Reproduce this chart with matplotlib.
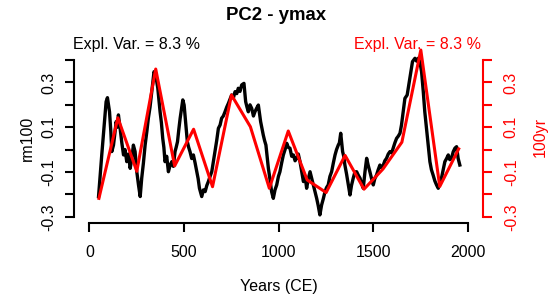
import matplotlib
matplotlib.use("Agg")
import matplotlib.pyplot as plt

plt.rcParams['font.family'] = ['Liberation Sans', 'DejaVu Sans']
plt.rcParams['axes.unicode_minus'] = False

# ---- data ----
black_years = [48, 65, 78, 88, 95, 106, 113, 118, 127, 134, 141, 147, 153, 162, 171, 180, 188, 197, 206, 215, 224,
               232, 241, 250, 259, 268, 276, 285, 294, 303, 311, 320, 329, 341, 350, 361, 373, 380, 387, 393, 399,
               408, 417, 426, 435, 443, 452, 458, 465, 472, 479, 493, 500, 509, 517, 524, 531, 540, 549, 558, 567,
               574, 581, 593, 602, 611, 620, 628, 637, 646, 655, 663, 672, 681, 690, 698, 707, 716, 725, 734, 742,
               751, 760, 769, 778, 786, 795, 804, 816, 825, 832, 839, 848, 857, 866, 874, 883, 892, 904, 918, 925,
               932, 945, 953, 962, 971, 980, 989, 998, 1006, 1015, 1024, 1033, 1042, 1050, 1059, 1068, 1077, 1086,
               1094, 1103, 1112, 1121, 1130, 1139, 1147, 1156, 1165, 1174, 1182, 1191, 1200, 1208, 1217, 1226,
               1235, 1244, 1252, 1261, 1270, 1279, 1288, 1297, 1305, 1314, 1320, 1327, 1337, 1343, 1349, 1358,
               1367, 1376, 1384, 1393, 1402, 1411, 1420, 1429, 1437, 1446, 1455, 1464, 1472, 1481, 1490, 1499,
               1507, 1516, 1525, 1534, 1543, 1552, 1560, 1569, 1578, 1587, 1596, 1604, 1613, 1622, 1631, 1640,
               1648, 1657, 1666, 1678, 1692, 1706, 1719, 1728, 1736, 1745, 1754, 1763, 1771, 1780, 1789, 1798,
               1806, 1815, 1824, 1833, 1842, 1850, 1859, 1868, 1877, 1886, 1895, 1903, 1912, 1921, 1930, 1939,
               1947, 1956]
black_values = [-0.210, -0.024, 0.110, 0.214, 0.232, 0.169, 0.080, -0.009, 0.020, 0.070, 0.125, 0.100, 0.155,
                0.095, 0.030, -0.024, 0.000, -0.054, -0.020, -0.084, -0.040, 0.020, -0.009, -0.099, -0.158,
                -0.210, -0.128, -0.060, 0.020, 0.080, 0.140, 0.190, 0.259, 0.348, 0.333, 0.274, 0.169, 0.120,
                0.050, 0.010, -0.054, -0.030, -0.099, -0.070, -0.054, -0.075, -0.009, 0.010, 0.035, 0.090, 0.140,
                0.222, 0.199, 0.110, 0.035, 0.010, -0.009, -0.040, -0.024, -0.060, -0.099, -0.130, -0.173,
                -0.210, -0.180, -0.188, -0.160, -0.143, -0.120, -0.099, -0.050, -0.009, 0.040, 0.095, 0.110,
                0.140, 0.150, 0.169, 0.190, 0.207, 0.225, 0.244, 0.230, 0.259, 0.250, 0.274, 0.260, 0.289, 0.296,
                0.214, 0.190, 0.169, 0.200, 0.184, 0.150, 0.169, 0.185, 0.199, 0.125, 0.065, 0.040, 0.020, -0.084,
                -0.130, -0.188, -0.218, -0.180, -0.158, -0.120, -0.099, -0.060, -0.024, 0.000, 0.028, 0.010,
                0.006, -0.030, -0.024, -0.050, -0.039, -0.020, -0.054, -0.100, -0.143, -0.120, -0.173, -0.130,
                -0.099, -0.130, -0.158, -0.190, -0.218, -0.250, -0.292, -0.248, -0.220, -0.188, -0.170, -0.158,
                -0.120, -0.099, -0.060, -0.024, 0.000, 0.020, 0.030, 0.073, -0.009, -0.030, -0.069, -0.110,
                -0.158, -0.203, -0.160, -0.128, -0.100, -0.099, -0.115, -0.128, -0.150, -0.173, -0.100, -0.039,
                -0.070, -0.099, -0.130, -0.158, -0.130, -0.114, -0.090, -0.069, -0.080, -0.069, -0.050, -0.039,
                -0.020, -0.009, -0.015, 0.006, 0.030, 0.050, 0.060, 0.073, 0.110, 0.169, 0.229, 0.244, 0.318,
                0.393, 0.408, 0.395, 0.408, 0.393, 0.348, 0.259, 0.169, 0.095, 0.020, -0.054, -0.090, -0.114,
                -0.140, -0.158, -0.173, -0.150, -0.128, -0.090, -0.054, -0.040, -0.024, -0.045, -0.039, -0.010,
                0.006, 0.013, -0.039, -0.069]

red_years = [50, 150, 250, 350, 450, 550, 650, 750, 850, 950, 1050, 1150, 1250, 1350, 1450, 1550, 1650, 1750, 1850, 1950]
red_values = [-0.218, 0.142, -0.097, 0.360, -0.073, 0.091, -0.166, 0.244, 0.102, -0.173, 0.083, -0.136, -0.192,
              -0.026, -0.177, -0.087, 0.033, 0.445, -0.165, 0.003]

x_ticks = [0, 500, 1000, 1500, 2000]
y_ticks = [-0.3, -0.2, -0.1, 0.0, 0.1, 0.2, 0.3, 0.4]
y_ticklabels = ['-0.3', '', '-0.1', '', '0.1', '', '0.3', '']

title = "PC2 - ymax"
expl_text = "Expl. Var. = 8.3 %"

# ---- figure ----
W, H = 556, 302
fig = plt.figure(figsize=(W / 100, H / 100), dpi=100)

def fx(px):
    return px / W

def fy(py):
    return 1 - py / H

left, right, top, bottom = 74.3, 483.3, 43.3, 223.3
ax = fig.add_axes([fx(left), fy(bottom), fx(right) - fx(left), fy(top) - fy(bottom)])
ax.set_xlim(-80, 2080)
ax.set_ylim(-0.3295, 0.475)

ax.plot(black_years, black_values, color='black', lw=2.4, zorder=2)

for s in ['top', 'right']:
    ax.spines[s].set_visible(False)
ax.spines['left'].set_bounds(-0.3, 0.4)
ax.spines['bottom'].set_bounds(0, 2000)
for s in ['left', 'bottom']:
    ax.spines[s].set_linewidth(1.5)

FS = 11.5
ax.set_xticks(x_ticks)
ax.set_xticklabels([str(t) for t in x_ticks])
ax.set_yticks(y_ticks)
ax.set_yticklabels(y_ticklabels)
ax.tick_params(axis='both', direction='out', length=6.8, width=1.5, labelsize=FS)
ax.tick_params(axis='x', pad=8.5)
ax.tick_params(axis='y', pad=6)
for lab in ax.get_yticklabels():
    lab.set_rotation(90)
    lab.set_va('center')

ax2 = ax.twinx()
ax2.set_ylim(ax.get_ylim())
ax2.plot(red_years, red_values, color='#FF0000', lw=2.2, zorder=3)
for s in ['top', 'left', 'bottom']:
    ax2.spines[s].set_visible(False)
ax2.spines['right'].set_bounds(-0.3, 0.4)
ax2.spines['right'].set_color('#FF0000')
ax2.spines['right'].set_linewidth(1.5)
ax2.set_yticks(y_ticks)
ax2.set_yticklabels(y_ticklabels)
ax2.tick_params(axis='y', direction='out', length=6.8, width=1.5, labelsize=FS,
                colors='#FF0000', pad=8)
for lab in ax2.get_yticklabels():
    lab.set_rotation(90)
    lab.set_va('center')

fig.text(fx(276), fy(16), title, ha='center', va='center', fontsize=13.4, fontweight='bold')
fig.text(fx(left - 1.5), fy(44), expl_text, ha='left', va='center', fontsize=FS)
fig.text(fx(right - 2.5), fy(44), expl_text, ha='right', va='center', fontsize=FS, color='#FF0000')
fig.text(fx(278.8), fy(287), "Years (CE)", ha='center', va='center', fontsize=FS)
fig.text(fx(27), fy(138), "rm100", ha='center', va='center', fontsize=FS, rotation=90)
fig.text(fx(540), fy(137), "100yr", ha='center', va='center', fontsize=FS, rotation=90, color='#FF0000')

fig.savefig("out.png", dpi=100)
